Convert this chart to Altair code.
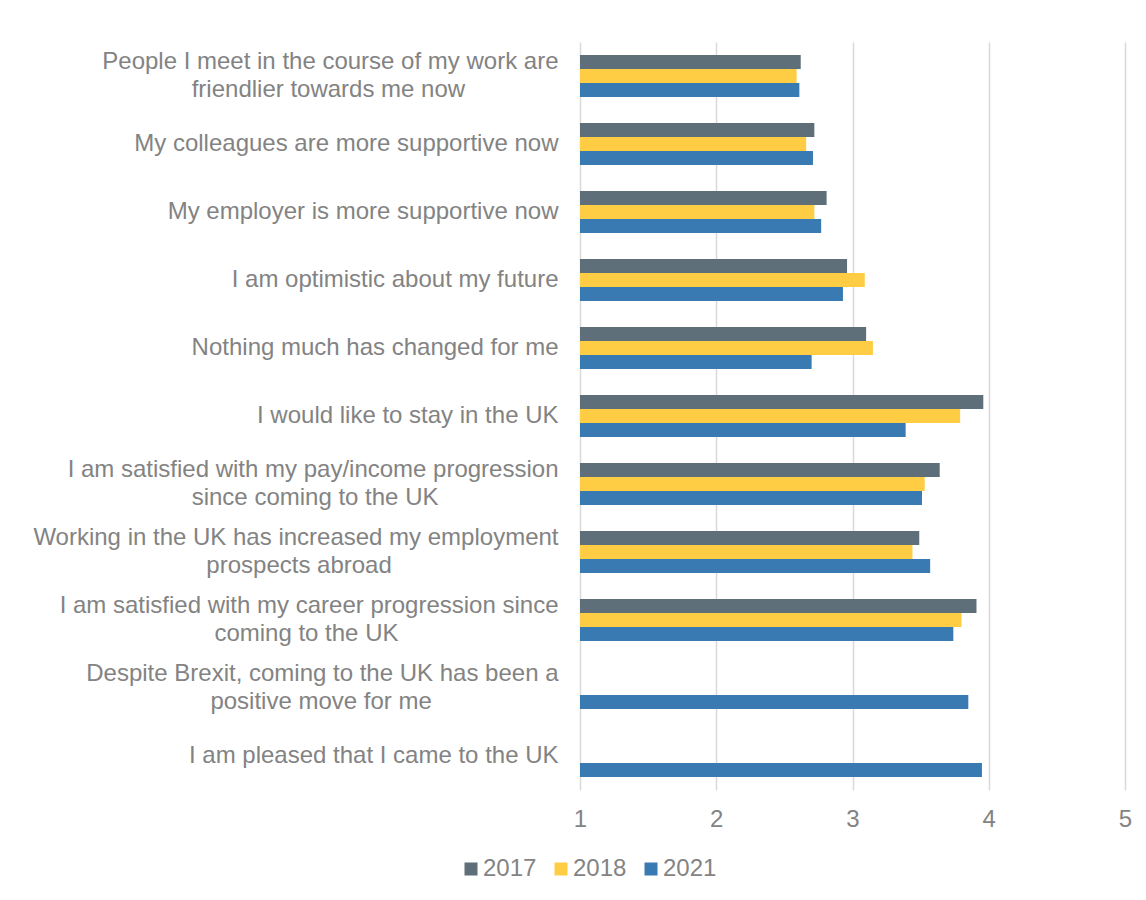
import altair as alt
import pandas as pd

categories = [
    "People I meet in the course of my work are\nfriendlier towards me now",
    "My colleagues are more supportive now",
    "My employer is more supportive now",
    "I am optimistic about my future",
    "Nothing much has changed for me",
    "I would like to stay in the UK",
    "I am satisfied with my pay/income progression\nsince coming to the UK",
    "Working in the UK has increased my employment\nprospects abroad",
    "I am satisfied with my career progression since\ncoming to the UK",
    "Despite Brexit, coming to the UK has been a\npositive move for me",
    "I am pleased that I came to the UK",
]
years = ["2017", "2018", "2021"]
v2017 = [2.62, 2.72, 2.81, 2.96, 3.10, 3.96, 3.64, 3.49, 3.91, None, None]
v2018 = [2.59, 2.66, 2.72, 3.09, 3.15, 3.79, 3.53, 3.44, 3.80, None, None]
v2021 = [2.61, 2.71, 2.77, 2.93, 2.70, 3.39, 3.51, 3.57, 3.74, 3.85, 3.95]
colors = ["#5e6f7a", "#ffcd44", "#3a7ab2"]

# Approximate Arial / Liberation Sans advance widths (per 1000 em), used only to
# centre the second line of two-line labels under the first, as in the original.
_W = dict(zip("abcdefghijklmnopqrstuvwxyz",
              [556, 556, 500, 556, 556, 278, 556, 556, 222, 222, 500, 222, 833,
               556, 556, 556, 556, 333, 500, 278, 556, 500, 722, 500, 500, 500]))
_W.update(dict(zip("ABCDEFGHIJKLMNOPQRSTUVWXYZ",
                   [667, 667, 722, 722, 667, 611, 778, 722, 278, 500, 667, 556, 833,
                    722, 778, 667, 778, 722, 667, 611, 722, 667, 944, 667, 667, 611])))
_W.update({" ": 278, "/": 278, ",": 278, ".": 278})


def _width(s):
    return sum(_W.get(c, 556) for c in s)


def display_label(cat):
    parts = cat.split("\n")
    if len(parts) == 1:
        return cat
    first, second = parts
    n = round((_width(first) - _width(second)) / 2 / 278)
    # no-break spaces followed by a zero-width space so they survive trimming
    return first + "\n" + second + "\u00a0" * max(n, 0) + "\u200b"


labels = [display_label(c) for c in categories]

rows = []
for series, year in zip([v2017, v2018, v2021], years):
    for lab, v in zip(labels, series):
        if v is not None:
            rows.append({"statement": lab, "year": year, "score": v})
df = pd.DataFrame(rows)

FONT = "Liberation Sans"
TXT = "#838383"

bars = alt.Chart(df).mark_bar().encode(
    y=alt.Y(
        "statement:N",
        sort=labels,
        scale=alt.Scale(paddingInner=0.382, paddingOuter=0.191),
        axis=alt.Axis(
            title=None, domain=False, ticks=False, grid=False,
            labelFontSize=24, labelColor=TXT, labelFont=FONT,
            labelPadding=22, labelLimit=700, labelLineHeight=28,
            labelExpr="split(datum.value, '\\n')",
            labelOffset={
                "condition": {"test": "indexof(datum.value, '\\n') >= 0", "value": -14},
                "value": 0,
            },
        ),
    ),
    yOffset=alt.YOffset("year:N", sort=years),
    x=alt.X(
        "score:Q",
        scale=alt.Scale(domain=[1, 5], zero=False, nice=False),
        axis=alt.Axis(
            title=None, values=[1, 2, 3, 4, 5], domain=False, ticks=False,
            grid=True, gridColor="#d9d9d9", gridWidth=1.5, labelFlush=False,
            labelFontSize=24, labelColor=TXT, labelFont=FONT, labelPadding=17,
        ),
    ),
    x2=alt.datum(1),
    color=alt.Color(
        "year:N",
        sort=years,
        scale=alt.Scale(domain=years, range=colors),
        legend=alt.Legend(
            title=None, orient="none", direction="horizontal",
            legendX=-121, legendY=815,
            symbolType="square", symbolSize=169, symbolStrokeWidth=0,
            labelFontSize=24, labelColor=TXT, labelFont=FONT,
            labelOffset=0, columnPadding=12,
        ),
    ),
)

chart = bars.properties(
    width=545,
    height=748,
    autosize=alt.AutoSizeParams(type="none"),
    padding={"left": 580, "top": 42, "right": 21, "bottom": 110},
    background="white",
).configure_view(stroke=None)

chart.save("out.html", embed_options={"renderer": "svg", "actions": False})
